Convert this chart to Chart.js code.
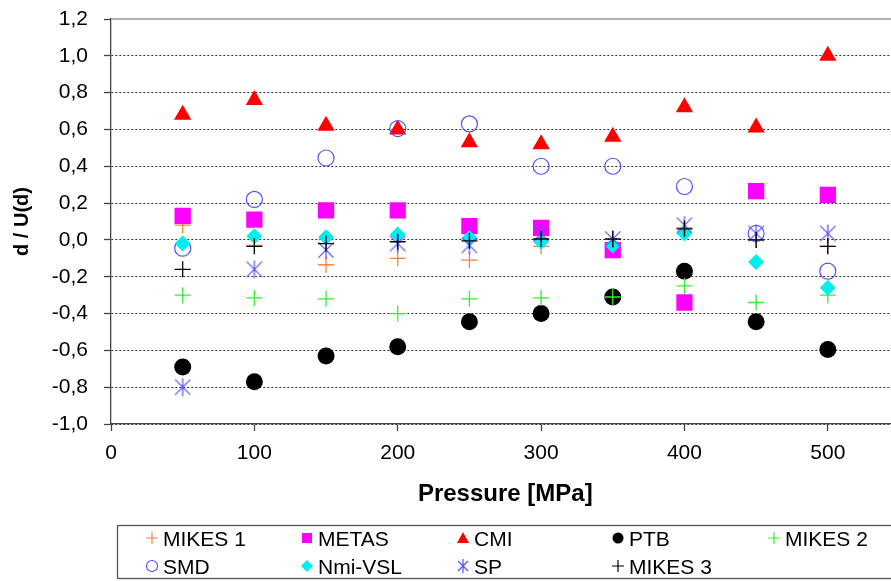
<!DOCTYPE html>
<html>
<head>
<meta charset="utf-8">
<script src="https://cdn.jsdelivr.net/npm/chart.js@4/dist/chart.umd.min.js"></script>
<style>
  html, body { margin: 0; padding: 0; background: #fff; overflow: hidden; }
  #wrap { width: 911px; height: 581px; position: relative; }
</style>
</head>
<body>
<div id="wrap"><canvas id="chart"></canvas></div>
<script>
// pressure points [MPa]
const pressures = [50, 100, 150, 200, 250, 300, 350, 400, 450, 500];

// d / U(d) per laboratory
const mikes1 = [0.08, -0.03, -0.135, -0.10, -0.11, -0.035, -0.03, 0.065, 0.0, -0.035];
const metas  = [0.13, 0.11, 0.16, 0.16, 0.075, 0.065, -0.055, -0.34, 0.265, 0.245];
const cmi    = [0.68, 0.76, 0.62, 0.60, 0.53, 0.52, 0.56, 0.72, 0.61, 1.0];
const ptb    = [-0.69, -0.77, -0.63, -0.58, -0.445, -0.40, -0.31, -0.17, -0.445, -0.595];
const mikes2 = [-0.30, -0.315, -0.32, -0.40, -0.32, -0.315, -0.31, -0.25, -0.34, -0.30];
const smd    = [-0.045, 0.22, 0.445, 0.605, 0.63, 0.40, 0.40, 0.29, 0.035, -0.17];
const nmiVsl = [-0.02, 0.02, 0.015, 0.03, 0.01, -0.01, -0.03, 0.035, -0.12, -0.26];
const sp     = [-0.80, -0.16, -0.055, -0.02, -0.03, 0.035, 0.005, 0.08, 0.035, 0.035];
const mikes3 = [-0.16, -0.035, -0.02, -0.01, -0.005, 0.005, 0.005, 0.06, 0.0, -0.035];

const seriesNames = ['MIKES 1', 'METAS', 'CMI', 'PTB', 'MIKES 2', 'SMD', 'Nmi-VSL', 'SP', 'MIKES 3'];
const xTicks = [0, 100, 200, 300, 400, 500];
const yTicks = [-1.0, -0.8, -0.6, -0.4, -0.2, 0.0, 0.2, 0.4, 0.6, 0.8, 1.0, 1.2];

const FONT = 'Liberation Sans, Arial, sans-serif';
const BLUE = '#5050FF';

// Excel style "star" marker: vertical bar + X
function asterisk(r, color, lw) {
    const c = document.createElement('canvas');
    const s = Math.ceil(2 * r + 4);
    c.width = c.height = s;
    const g = c.getContext('2d');
    const m = s / 2, d = r * 0.85;
    g.strokeStyle = color;
    g.lineWidth = lw;
    g.beginPath();
    g.moveTo(m, m - r); g.lineTo(m, m + r);
    g.moveTo(m - d, m - d); g.lineTo(m + d, m + d);
    g.moveTo(m - d, m + d); g.lineTo(m + d, m - d);
    g.stroke();
    return c;
}

const styles = [
    { style: 'cross',    color: '#FF8040', fill: false, radius: 8,  bw: 1.3 },
    { style: 'rect',     color: '#FF00FF', fill: true,  radius: 11.5, bw: 0 },
    { style: 'triangle', color: '#FF0000', fill: true,  radius: 10, bw: 0 },
    { style: 'circle',   color: '#000000', fill: true,  radius: 8.5, bw: 0 },
    { style: 'cross',    color: '#33EE33', fill: false, radius: 8,  bw: 1.3 },
    { style: 'circle',   color: BLUE,      fill: false, radius: 8,  bw: 1.2 },
    { style: 'rectRot',  color: '#00EEEE', fill: true,  radius: 8,  bw: 0 },
    { style: asterisk(9, BLUE, 1.2), color: BLUE, fill: false, radius: 9, bw: 1.2 },
    { style: 'cross',    color: '#000000', fill: false, radius: 8,  bw: 1.3 }
];
const allValues = [mikes1, metas, cmi, ptb, mikes2, smd, nmiVsl, sp, mikes3];

const datasets = allValues.map((vals, i) => ({
    label: seriesNames[i],
    data: pressures.map((p, j) => ({ x: p, y: vals[j] })),
    pointStyle: styles[i].style,
    pointRadius: styles[i].radius,
    pointBackgroundColor: styles[i].fill ? styles[i].color : 'rgba(0,0,0,0)',
    pointBorderColor: styles[i].color,
    pointBorderWidth: styles[i].bw,
    order: allValues.length - i
}));

// legend box under the chart, drawn like the Excel one
function legendSymbol(ctx, i, x, y) {
    const s = styles[i];
    ctx.save();
    ctx.strokeStyle = s.color;
    ctx.fillStyle = s.color;
    ctx.lineWidth = 1.2;
    ctx.beginPath();
    if (s.style === 'cross') {
        ctx.moveTo(x - 6, y); ctx.lineTo(x + 6, y);
        ctx.moveTo(x, y - 6); ctx.lineTo(x, y + 6);
        ctx.stroke();
    } else if (s.style === 'rect') {
        ctx.fillRect(x - 5, y - 5, 10, 10);
    } else if (s.style === 'triangle') {
        ctx.moveTo(x, y - 6); ctx.lineTo(x + 6, y + 5); ctx.lineTo(x - 6, y + 5);
        ctx.closePath(); ctx.fill();
    } else if (s.style === 'circle') {
        ctx.arc(x, y, 5.5, 0, Math.PI * 2);
        if (s.fill) ctx.fill(); else ctx.stroke();
    } else if (s.style === 'rectRot') {
        ctx.moveTo(x, y - 6); ctx.lineTo(x + 6, y); ctx.lineTo(x, y + 6); ctx.lineTo(x - 6, y);
        ctx.closePath(); ctx.fill();
    } else {
        ctx.moveTo(x, y - 7); ctx.lineTo(x, y + 7);
        ctx.moveTo(x - 5, y - 5); ctx.lineTo(x + 5, y + 5);
        ctx.moveTo(x - 5, y + 5); ctx.lineTo(x + 5, y - 5);
        ctx.stroke();
    }
    ctx.restore();
}

const boxLegend = {
    id: 'boxLegend',
    afterDraw(chart) {
        const ctx = chart.ctx;
        const area = chart.chartArea;
        ctx.save();
        // solid top frame line of the plot
        ctx.strokeStyle = '#999';
        ctx.lineWidth = 1.3;
        ctx.beginPath();
        ctx.moveTo(area.left, area.top);
        ctx.lineTo(area.right, area.top);
        ctx.lineTo(area.right, area.bottom);
        ctx.stroke();

        ctx.strokeStyle = '#555';
        ctx.lineWidth = 1.3;
        ctx.strokeRect(117.5, 525.5, 900, 53);
        ctx.font = '21px ' + FONT;
        ctx.fillStyle = '#000';
        ctx.textBaseline = 'alphabetic';
        const cols = [152, 307, 463, 618, 774];
        const rows = [538, 566];
        seriesNames.forEach((name, i) => {
            const cx = cols[i % 5], cy = rows[Math.floor(i / 5)];
            legendSymbol(ctx, i, cx, cy);
            ctx.fillText(name, cx + 11, cy + 7.5);
        });
        ctx.restore();
    }
};

new Chart(document.getElementById('chart'), {
    type: 'scatter',
    data: { datasets },
    options: {
        responsive: true,
        maintainAspectRatio: false,
        animation: false,
        events: [],
        layout: { padding: { top: 19, right: 5, bottom: 72, left: 0 } },
        plugins: { legend: { display: false }, tooltip: { enabled: false } },
        scales: {
            x: {
                type: 'linear',
                min: 0,
                max: 550,
                afterFit: s => { s.height = 85; },
                afterBuildTicks: s => { s.ticks = xTicks.map(v => ({ value: v })); },
                ticks: { color: '#000', font: { family: FONT, size: 21 }, padding: 10, maxRotation: 0 },
                grid: { drawOnChartArea: false, drawTicks: true, tickLength: 7, tickColor: '#444', tickWidth: 1.3 },
                border: { display: true, color: '#444', width: 1.3 },
                title: { display: true, text: 'Pressure [MPa]', color: '#000',
                         font: { family: FONT, size: 24, weight: 'bold' }, padding: { top: 0, bottom: 0 } }
            },
            y: {
                min: -1.0,
                max: 1.2,
                afterFit: s => { s.width = 111; s.paddingTop = 0; },
                afterBuildTicks: s => { s.ticks = yTicks.map(v => ({ value: v })); },
                ticks: {
                    color: '#000',
                    font: { family: FONT, size: 21 },
                    padding: 16,
                    callback: v => (Math.round(v * 10) / 10).toFixed(1).replace('.', ',')
                },
                grid: {
                    color: c => c.index === yTicks.length - 1 ? 'rgba(0,0,0,0)' : '#333',
                    lineWidth: 1,
                    drawTicks: true,
                    tickLength: 7,
                    tickColor: '#444',
                    tickWidth: 1.3
                },
                border: { display: true, color: '#444', width: 1.3, dash: [2, 2] },
                title: { display: true, text: 'd / U(d)', color: '#000',
                         font: { family: FONT, size: 20, weight: 'bold' }, padding: { top: 10, bottom: 0 } }
            }
        }
    },
    plugins: [boxLegend]
});
</script>
</body>
</html>
